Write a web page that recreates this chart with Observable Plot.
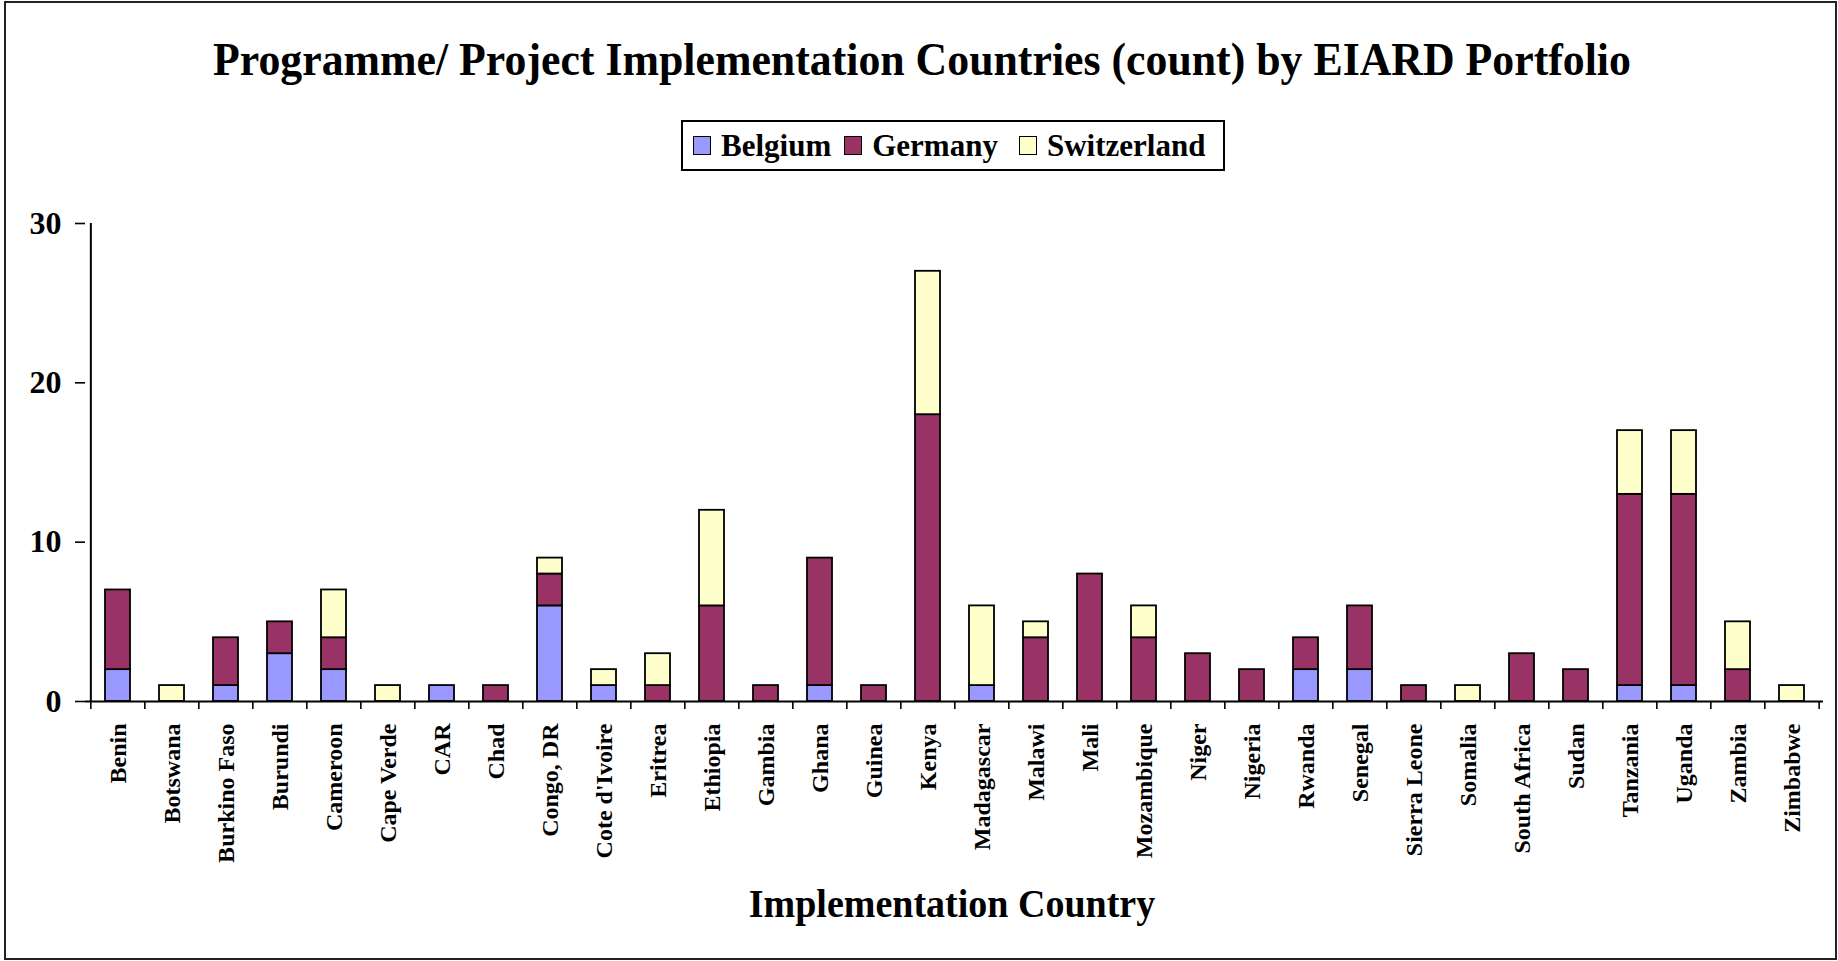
<!DOCTYPE html>
<html>
<head>
<meta charset="utf-8">
<script src="https://cdn.jsdelivr.net/npm/d3@7"></script>
<script src="https://cdn.jsdelivr.net/npm/@observablehq/plot@0.6"></script>
<style>
  html, body { margin: 0; padding: 0; background: #fff; }
  #chart { position: relative; width: 1838px; height: 961px; overflow: hidden; background: #fff;
           font-family: "Liberation Serif", "Times New Roman", serif; font-weight: bold; color: #000; }
  #border { position: absolute; left: 4px; top: 1px; width: 1833px; height: 959px; box-sizing: border-box;
            border: 2px solid #222; pointer-events: none; }
  #header { position: relative; width: 1838px; height: 190px; }
  #title { position: absolute; left: 3px; top: 39px; width: 1838px; text-align: center; font-size: 43.8px;
           line-height: 43px; white-space: nowrap; transform: scaleY(1.08); transform-origin: 50% 36px; }
  #legend { position: absolute; left: 681px; top: 120px; width: 544px; height: 51px; box-sizing: border-box;
            border: 2px solid #000; display: flex; align-items: center; padding-left: 10px; font-size: 31px; }
  .item { display: flex; align-items: center; }
  .sw { width: 18px; height: 19px; box-sizing: border-box; border: 1.5px solid #000; margin-right: 10px; }
  #plot { position: absolute; left: 0; top: 190px; }
  #xtitle { position: absolute; left: 0; top: 885px; width: 1904px; text-align: center; font-size: 38px;
            line-height: 38px; white-space: nowrap; transform: scaleY(1.07); transform-origin: 50% 32px; }
</style>
</head>
<body>
<div id="chart">
  <div id="header">
    <div id="title"></div>
    <div id="legend"></div>
  </div>
  <div id="plot"></div>
  <div id="xtitle"></div>
  <div id="border"></div>
</div>
<script>
const titleText = "Programme/ Project Implementation Countries (count) by EIARD Portfolio";
const xTitleText = "Implementation Country";
const countries = ["Benin","Botswana","Burkino Faso","Burundi","Cameroon","Cape Verde","CAR","Chad","Congo, DR","Cote d'Ivoire","Eritrea","Ethiopia","Gambia","Ghana","Guinea","Kenya","Madagascar","Malawi","Mali","Mozambique","Niger","Nigeria","Rwanda","Senegal","Sierra Leone","Somalia","South Africa","Sudan","Tanzania","Uganda","Zambia","Zimbabwe"];
const belgium     = [2,0,1,3,2,0,1,0,6,1,0,0,0,1,0,0,1,0,0,0,0,0,2,2,0,0,0,0,1,1,0,0];
const germany     = [5,0,3,2,2,0,0,1,2,0,1,6,1,8,1,18,0,4,8,4,3,2,2,4,1,0,3,2,12,12,2,0];
const switzerland = [0,1,0,0,3,1,0,0,1,1,2,6,0,0,0,9,5,1,0,2,0,0,0,0,0,1,0,0,4,4,3,1];
const seriesNames = ["Belgium","Germany","Switzerland"];
const seriesColors = ["#9999FF","#993366","#FFFFCC"];
const yTicks = [0,10,20,30];

const seriesValues = [belgium, germany, switzerland];
const rows = [];
countries.forEach((c, i) => {
  seriesValues.forEach((arr, j) => {
    if (arr[i] > 0) rows.push({country: c, series: seriesNames[j], value: arr[i]});
  });
});

document.getElementById("title").textContent = titleText;
document.getElementById("xtitle").textContent = xTitleText;

const legend = document.getElementById("legend");
const itemGaps = [13, 21, 0];
seriesNames.forEach((name, j) => {
  const it = document.createElement("div");
  it.className = "item";
  it.style.marginRight = itemGaps[j] + "px";
  const sw = document.createElement("div");
  sw.className = "sw";
  sw.style.background = seriesColors[j];
  const tx = document.createElement("span");
  tx.textContent = name;
  it.appendChild(sw); it.appendChild(tx);
  legend.appendChild(it);
});

const W = 1838, H = 680, mL = 85, mR = 15, mT = 33, mB = 169;
const step = (W - mL - mR) / countries.length;

const chart = Plot.plot({
  width: W, height: H,
  marginLeft: mL, marginRight: mR, marginTop: mT, marginBottom: mB,
  style: {fontFamily: "'Liberation Serif', 'Times New Roman', serif", fontWeight: "bold", background: "transparent", color: "#000", overflow: "visible"},
  x: {domain: countries, paddingInner: 0.54, paddingOuter: 0.27, axis: null},
  y: {domain: [0, 30], axis: null},
  color: {domain: seriesNames, range: seriesColors},
  marks: [
    Plot.barY(rows, {x: "country", y: "value", fill: "series", order: seriesNames, stroke: "#000", strokeWidth: 1.8}),
    Plot.ruleY([0], {stroke: "#000", strokeWidth: 2}),
    Plot.ruleX([countries[0]], {x: d => d, dx: -step / 2, y1: 0, y2: 30, stroke: "#000", strokeWidth: 2}),
    Plot.axisY({ticks: yTicks, tickSize: 10, tickPadding: 14, fontSize: 32, tickFormat: d => String(d), strokeWidth: 1.6, label: null}),
    Plot.axisX(countries, {tickSize: 8, dx: -step / 2, tickFormat: () => "", strokeWidth: 1.6, label: null}),
    Plot.axisX([countries[countries.length - 1]], {tickSize: 8, dx: step / 2, tickFormat: () => "", strokeWidth: 1.6, label: null}),
    Plot.axisX({tickSize: 0, tickRotate: -90, tickPadding: 22, fontSize: 24, label: null})
  ]
});
document.getElementById("plot").appendChild(chart);
</script>
</body>
</html>
